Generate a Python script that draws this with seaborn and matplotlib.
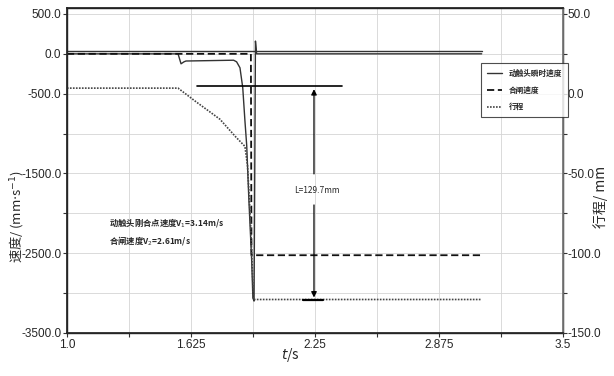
import matplotlib
matplotlib.use("Agg")
import matplotlib.pyplot as plt
import seaborn as sns
import pandas as pd
from matplotlib.lines import Line2D

# instantaneous contact velocity (mm/s)
t_vel = [1.0, 1.56, 1.575, 1.59, 1.60, 1.84, 1.855, 1.872, 1.886, 1.897,
         1.906, 1.917, 1.931, 1.937, 1.943, 1.950, 1.956, 3.09]
vel = [0, 0, -125, -100, -90, -80, -100, -175, -425, -840,
       -1150, -1840, -2590, -3060, -3100, 160, 0, 0]

# reference level line near zero
t_ref = [1.0, 3.09]
ref = [40, 40]

# closing velocity (mm/s)
t_close = [1.0, 1.927, 1.930, 3.09]
close_vel = [0, 0, -2525, -2525]

# travel (mm), right axis
t_travel = [1.0, 1.56, 1.65, 1.771, 1.85, 1.897, 1.91, 1.925, 1.94, 3.09]
travel = [3.5, 3.5, -5, -16, -27, -33, -45, -80, -129, -129]

x_ticks = [1.0, 1.3125, 1.625, 1.9375, 2.25, 2.5625, 2.875, 3.1875, 3.5]
x_labels = ["1.0", "", "1.625", "", "2.25", "", "2.875", "", "3.5"]
left_ticks = [500, 0, -500, -1000, -1500, -2000, -2500, -3000, -3500]
left_labels = ["500.0", "0.0", "-500.0", "", "-1500.0", "", "-2500.0", "", "-3500.0"]
right_ticks = [50, 25, 0, -25, -50, -75, -100, -125, -150]
right_labels = ["50.0", "", "0.0", "", "-50.0", "", "-100.0", "", "-150.0"]

legend_names = ["动触头瞬时速度", "合闸速度", "行程"]
note1 = "动触头刚合点速度V$_1$=3.14m/s"
note2 = "合闸速度V$_2$=2.61m/s"
length_text = "L=129.7mm"

sns.set_theme(style="ticks")
plt.rcParams["font.family"] = ["Liberation Sans Narrow", "Liberation Sans", "DejaVu Sans"]
cjk = ["Noto Sans CJK SC", "DejaVu Sans"]

fig = plt.figure(figsize=(6.14, 3.76), dpi=100)
ax = fig.add_axes([0.109, 0.1144, 0.808, 0.8644])
ax2 = ax.twinx()

df_vel = pd.DataFrame({"t": t_vel, "v": vel})
df_ref = pd.DataFrame({"t": t_ref, "v": ref})
df_close = pd.DataFrame({"t": t_close, "v": close_vel})
df_travel = pd.DataFrame({"t": t_travel, "s": travel})

sns.lineplot(data=df_ref, x="t", y="v", ax=ax, color="#333333", lw=1.0, estimator=None)
sns.lineplot(data=df_vel, x="t", y="v", ax=ax, color="#333333", lw=1.0, estimator=None)
sns.lineplot(data=df_close, x="t", y="v", ax=ax, color="#111111", lw=1.3,
             linestyle=(0, (4, 2)), estimator=None)
sns.lineplot(data=df_travel, x="t", y="s", ax=ax2, color="#444444", lw=1.2,
             linestyle=(0, (1, 0.8)), estimator=None)

ax.set_xlim(1.0, 3.5)
ax.set_ylim(-3500, 575)
ax2.set_ylim(-150, 53.75)

ax.set_xticks(x_ticks)
ax.set_xticklabels(x_labels)
ax.set_yticks(left_ticks)
ax.set_yticklabels(left_labels)
ax2.set_yticks(right_ticks)
ax2.set_yticklabels(right_labels)

for a in (ax, ax2):
    a.tick_params(labelsize=8.5, length=3, width=0.8, color="#333333", pad=1)
ax2.tick_params(pad=0)
ax.grid(True, color="#d4d4d4", lw=0.6)
ax2.grid(False)
for sp in ax.spines.values():
    sp.set_color("#222222")
    sp.set_linewidth(1.0)
ax2.spines["right"].set_color("#777777")
ax2.spines["top"].set_color("#222222")

ax.set_xlabel("$t$/s", fontsize=10, family=cjk)
ax.xaxis.set_label_coords(0.45, -0.04)
ax.set_ylabel("速度/ (mm$\\cdot$s$^{-1}$)", fontsize=9.5, family=cjk)
ax.yaxis.set_label_coords(-0.085, 0.36)
ax2.set_ylabel("行程/ mm", fontsize=10, family=cjk)
ax2.yaxis.set_label_coords(1.06, 0.42)

# measurement annotation for the travel length
ax2.plot([1.655, 2.386], [4.6, 4.6], color="black", lw=1.2)
ax2.plot([2.19, 2.29], [-129.5, -129.5], color="black", lw=1.6)
ax2.annotate("", xy=(2.245, 4.6), xytext=(2.245, -52),
             arrowprops=dict(arrowstyle="-|>", color="black", lw=0.9, mutation_scale=8))
ax2.annotate("", xy=(2.245, -129.5), xytext=(2.245, -68),
             arrowprops=dict(arrowstyle="-|>", color="black", lw=0.9, mutation_scale=8))
ax2.text(2.26, -60.5, length_text, fontsize=6, ha="center", va="center", family=cjk)

ax.text(1.212, -2121, note1, fontsize=6, ha="left", va="center", family=cjk, fontweight="bold")
ax.text(1.212, -2337, note2, fontsize=6, ha="left", va="center", family=cjk, fontweight="bold")

handles = [
    Line2D([], [], color="#333333", lw=1.0),
    Line2D([], [], color="#111111", lw=1.3, linestyle=(0, (4, 2))),
    Line2D([], [], color="#444444", lw=1.2, linestyle=(0, (1, 0.8))),
]
leg = ax2.legend(handles, legend_names, loc="upper left", bbox_to_anchor=(0.827, 0.843),
                 prop={"family": cjk, "size": 5.5, "weight": "bold"}, frameon=True,
                 fancybox=False, edgecolor="#222222", handlelength=2.0,
                 borderpad=0.8, labelspacing=1.0)
leg.get_frame().set_linewidth(0.8)

fig.savefig("out.png", dpi=100)
